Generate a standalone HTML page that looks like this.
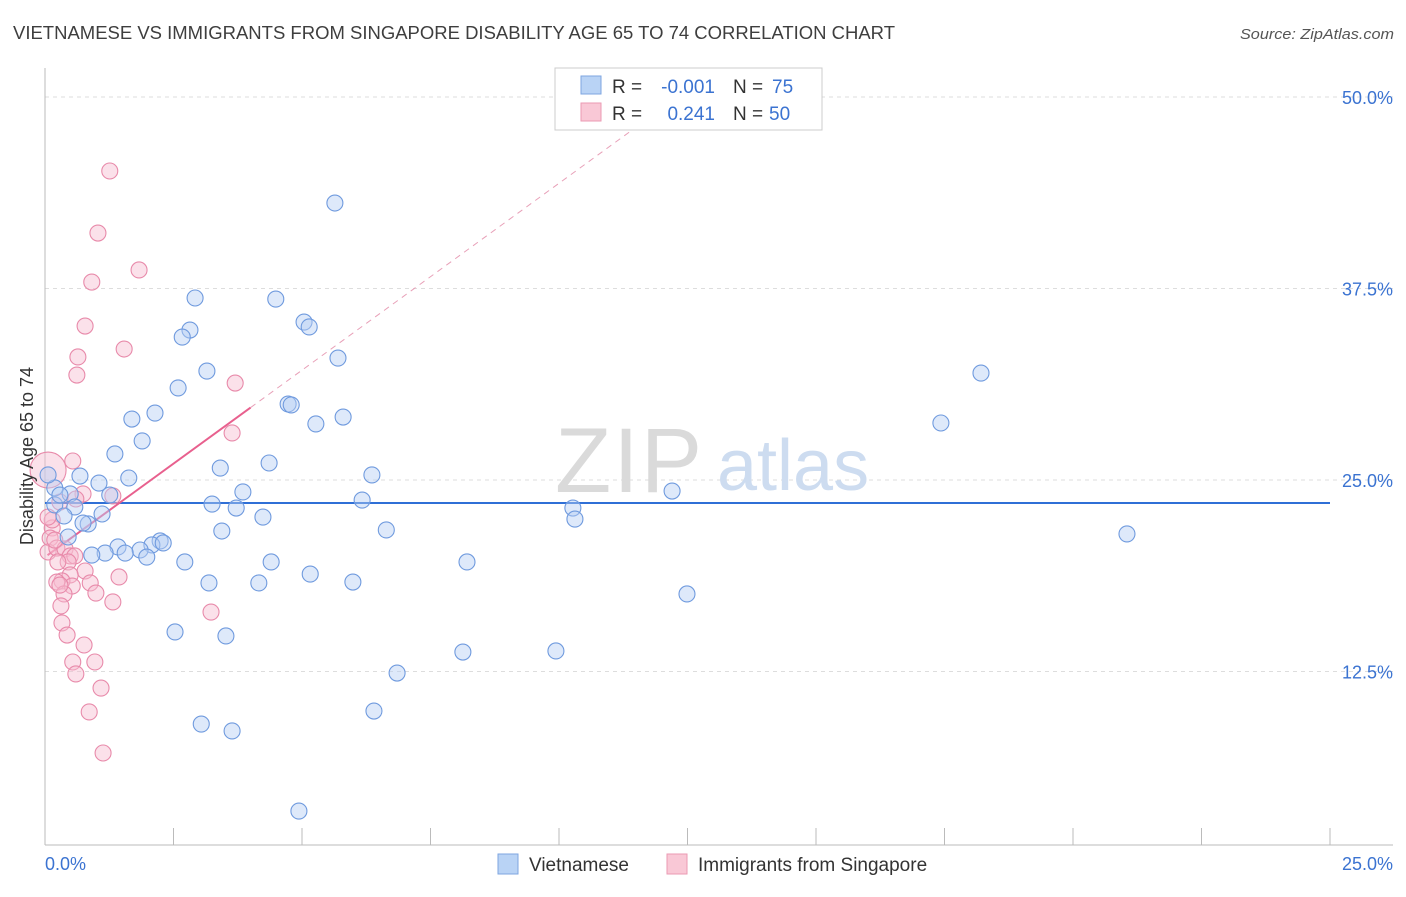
<!DOCTYPE html>
<html><head><meta charset="utf-8"><style>
body{margin:0;background:#fff;font-family:"Liberation Sans",sans-serif}
svg text{font-family:"Liberation Sans",sans-serif}
</style></head><body>
<svg id="chart" width="1406" height="892" viewBox="0 0 1406 892" xmlns="http://www.w3.org/2000/svg">
<text x="13" y="39" font-size="18" fill="#3e3e3e" textLength="882" lengthAdjust="spacingAndGlyphs">VIETNAMESE VS IMMIGRANTS FROM SINGAPORE DISABILITY AGE 65 TO 74 CORRELATION CHART</text>
<text x="1394" y="39" font-size="15" fill="#555" text-anchor="end" font-style="italic" textLength="154" lengthAdjust="spacingAndGlyphs">Source: ZipAtlas.com</text>
<g id="grid"></g>
<text x="555" y="492" font-size="92" fill="#dadada" font-family="Liberation Serif" letter-spacing="2">ZIP</text>
<text x="717" y="490" font-size="72" fill="#cddcf0">atlas</text>
<g id="axes"></g>
<g id="lines"></g>
<g id="pts"></g>
<text transform="translate(33,456) rotate(-90)" font-size="18" fill="#333" text-anchor="middle">Disability Age 65 to 74</text>
<text x="45" y="870" font-size="18" fill="#3b73d1">0.0%</text>
<text x="1393" y="870" font-size="18" fill="#3b73d1" text-anchor="end">25.0%</text>
<g>
<rect x="555" y="68" width="267" height="62" fill="#fff" stroke="#ccc"/>
<rect x="581" y="76" width="20" height="18" fill="#b9d3f5" stroke="#7ea6e0"/>
<rect x="581" y="103" width="20" height="18" fill="#f9c8d6" stroke="#eb9ab3"/>
<text x="612" y="93" font-size="19" fill="#333">R =</text>
<text x="715" y="93" font-size="19" fill="#3b73d1" text-anchor="end">-0.001</text>
<text x="733" y="93" font-size="19" fill="#333">N =</text>
<text x="772" y="93" font-size="19" fill="#3b73d1">75</text>
<text x="612" y="120" font-size="19" fill="#333">R =</text>
<text x="715" y="120" font-size="19" fill="#3b73d1" text-anchor="end">0.241</text>
<text x="733" y="120" font-size="19" fill="#333">N =</text>
<text x="769" y="120" font-size="19" fill="#3b73d1">50</text>
</g>
<g>
<rect x="498" y="854" width="20" height="20" fill="#b9d3f5" stroke="#7ea6e0"/>
<text x="529" y="871" font-size="19" fill="#333">Vietnamese</text>
<rect x="667" y="854" width="20" height="20" fill="#f9c8d6" stroke="#eb9ab3"/>
<text x="698" y="871" font-size="19" fill="#333">Immigrants from Singapore</text>
</g>
</svg>
<script>
const yTicks=[12.5,25,37.5,50];
const yTickLabels=["12.5%","25.0%","37.5%","50.0%"];
const xTicks=[0,2.5,5,7.5,10,12.5,15,17.5,20,22.5,25];
const blueX=[5.64,2.92,4.49,5.04,5.14,2.82,2.67,5.70,3.15,2.59,4.73,4.79,5.80,5.27,2.14,1.69,1.89,1.36,4.36,3.41,6.36,0.68,1.63,3.85,1.05,0.19,1.26,0.49,6.17,3.25,3.72,0.19,0.58,0.37,1.11,4.24,0.84,0.74,3.44,6.64,10.27,10.31,12.20,17.43,18.21,21.05,0.45,2.24,1.42,2.08,2.30,1.85,1.56,1.17,0.91,1.98,2.72,4.40,8.21,5.16,3.19,4.16,5.99,12.49,2.53,3.52,8.13,9.94,6.85,3.04,3.64,6.40,4.94,0.06,0.29];
const blueY=[43.08,36.88,36.81,35.31,34.99,34.79,34.33,32.96,32.11,31.01,29.96,29.90,29.11,28.66,29.37,28.98,27.55,26.70,26.11,25.78,25.33,25.26,25.13,24.22,24.80,24.48,24.02,24.09,23.69,23.43,23.17,23.37,23.24,22.65,22.78,22.58,22.13,22.19,21.67,21.74,23.17,22.45,24.28,28.72,31.98,21.48,21.28,21.02,20.63,20.76,20.89,20.43,20.23,20.23,20.10,19.97,19.65,19.65,19.65,18.86,18.28,18.28,18.34,17.56,15.08,14.82,13.77,13.84,12.40,9.07,8.62,9.92,3.39,25.33,24.02];
const pinkX=[1.26,1.03,1.83,0.91,0.78,1.54,0.64,0.62,3.70,3.64,0.54,0.74,1.32,0.60,0.29,0.14,0.10,0.06,0.23,0.39,0.49,0.58,0.45,0.25,0.78,0.49,1.44,0.33,0.23,0.53,0.88,0.99,0.37,1.32,0.31,3.23,0.33,0.43,0.76,0.54,0.97,0.60,1.09,0.86,1.13,0.14,0.06,0.19,0.29];
const pinkY=[45.17,41.12,38.71,37.92,35.05,33.55,33.03,31.85,31.33,28.07,26.24,24.09,23.96,23.76,23.56,21.87,21.21,20.30,20.56,20.50,20.04,20.04,19.65,19.65,19.06,18.80,18.67,18.41,18.34,18.08,18.28,17.62,17.56,17.04,16.78,16.38,15.67,14.88,14.23,13.12,13.12,12.34,11.42,9.86,7.18,22.39,22.58,21.08,18.14];
const blueTrend=[23.5,23.5];
const pinkIntercept=19.97, pinkSlope=2.44;
const NS="http://www.w3.org/2000/svg";
const sx=v=>45+v/25*1285;
const sy=v=>863-v*15.32;
function mk(tag,attrs,parent){const e=document.createElementNS(NS,tag);for(const k in attrs)e.setAttribute(k,attrs[k]);parent.appendChild(e);return e;}
const grid=document.getElementById('grid'),axes=document.getElementById('axes'),lines=document.getElementById('lines'),pts=document.getElementById('pts');
yTicks.forEach((t,i)=>{
 const l=mk('line',{x1:45,x2:1393,y1:sy(t),y2:sy(t),stroke:'#ddd','stroke-dasharray':'4,4'},grid);
 
 
 const tx=mk('text',{x:1393,y:sy(t)+7,'font-size':18,fill:'#3b73d1','text-anchor':'end'},grid);
 tx.textContent=yTickLabels[i];
 
 
});
mk('line',{x1:45,x2:45,y1:68,y2:845,stroke:'#bbb'},axes);
mk('line',{x1:45,x2:1393,y1:845,y2:845,stroke:'#bbb'},axes);
xTicks.forEach(t=>{
 const l=mk('line',{x1:sx(t),x2:sx(t),y1:828,y2:845,stroke:'#bbb'},axes);
 
 
});
function dot(x,y,fill,stroke,name,r){
 const c=mk('circle',{cx:sx(x),cy:sy(y),r:r||8,fill:fill,'fill-opacity':0.45,stroke:stroke,'stroke-width':1.1},pts);
 
 
}
pinkX.forEach((x,i)=>dot(x,pinkY[i],'#f7bdd0','#e88aaa','singapore-point'));
dot(0.06,25.65,'#f7bdd0','#e88aaa','singapore-point',18);
blueX.forEach((x,i)=>dot(x,blueY[i],'#b6cff3','#6f9ade','vietnamese-point'));
const bl=mk('line',{x1:sx(0),x2:sx(25),y1:sy(blueTrend[0]),y2:sy(blueTrend[1]),stroke:'#2f6fd6','stroke-width':2},lines);


const pl=mk('line',{x1:sx(0.05),x2:sx(4),y1:sy(pinkIntercept+pinkSlope*0.05),y2:sy(pinkIntercept+pinkSlope*4),stroke:'#e8608e','stroke-width':2},lines);


const pd=mk('line',{x1:sx(4),x2:sx(11.9),y1:sy(pinkIntercept+pinkSlope*4),y2:sy(pinkIntercept+pinkSlope*11.9),stroke:'#e8a0b8','stroke-width':1,'stroke-dasharray':'6,5'},lines);


</script>
</body></html>
